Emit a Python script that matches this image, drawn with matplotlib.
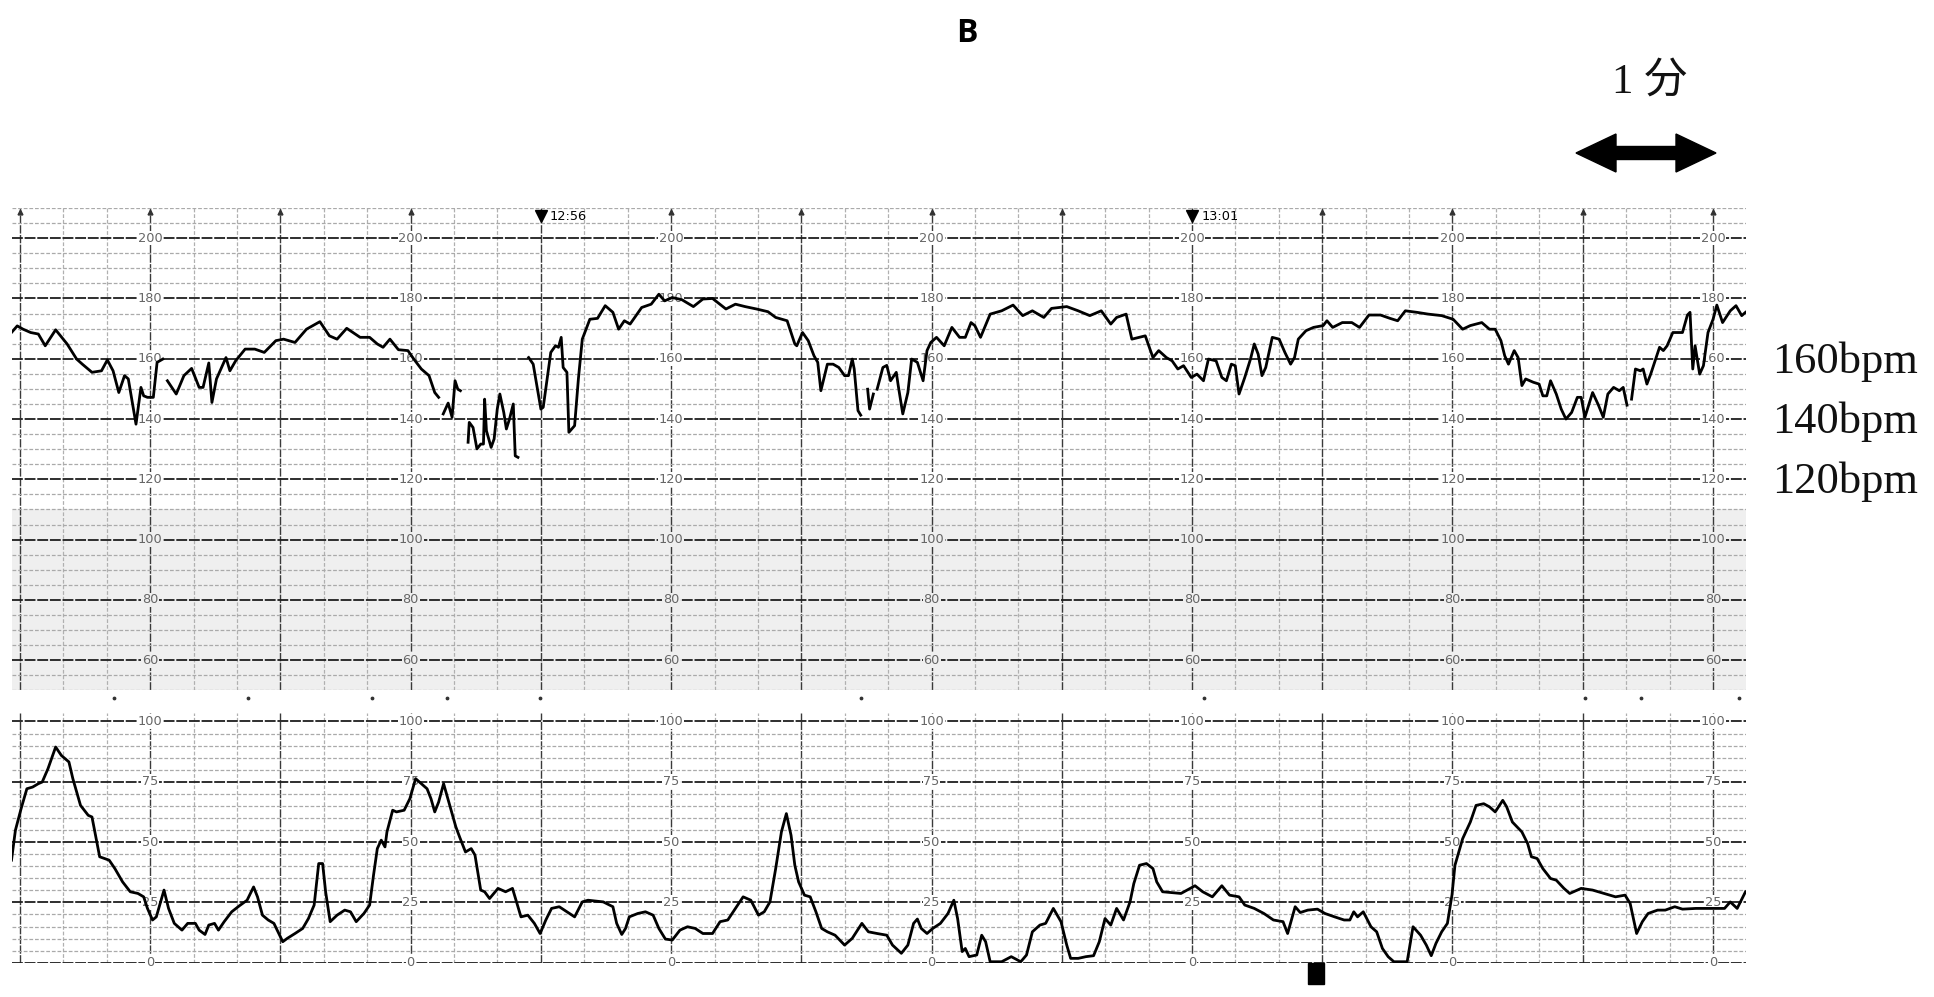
import numpy as np
import matplotlib
matplotlib.use('Agg')
import matplotlib.pyplot as plt
from matplotlib import font_manager
from matplotlib.patches import Polygon, Rectangle
from matplotlib.transforms import blended_transform_factory

# fetal heart rate trace (time in minutes from 12:56, None = signal lost)
fhr_t = [-4.065, -4.021, -3.976, -3.918, -3.859, -3.806, -3.726, -3.638, -3.565, -3.521, -3.447, -3.374,
         -3.329, -3.285, -3.241, -3.197, -3.168, -3.109, -3.071, -3.050, -3.021, -2.976, -2.947, -2.903,
         -2.885,
         -2.868, -2.800, -2.741, -2.682, -2.624, -2.594, -2.550, -2.526, -2.491, -2.418, -2.388, -2.344,
         -2.271, -2.197, -2.124, -2.035, -1.976, -1.888, -1.800, -1.697, -1.624, -1.565, -1.491, -1.388,
         -1.315, -1.256, -1.212, -1.159, -1.094, -1.021, -0.976, -0.918, -0.859, -0.815, -0.785,
         -0.768,
         -0.750, -0.712, -0.682, -0.659, -0.638, -0.618,
         -0.590,
         -0.559, -0.550, -0.521, -0.491, -0.462, -0.441, -0.432, -0.418, -0.382, -0.359, -0.335, -0.315,
         -0.285, -0.265, -0.241, -0.212, -0.197, -0.176,
         -0.130,
         -0.094, -0.059, 0.000, 0.018, 0.076, 0.112, 0.135, 0.156, 0.171, 0.200, 0.215, 0.259, 0.288,
         0.318, 0.376, 0.435, 0.494, 0.553, 0.597, 0.641, 0.685, 0.774, 0.847, 0.906, 0.950, 1.009,
         1.082, 1.171, 1.244, 1.318, 1.421, 1.494, 1.568, 1.656, 1.744, 1.803, 1.891, 1.950, 1.965,
         2.009, 2.053, 2.097, 2.126, 2.150, 2.200, 2.244, 2.288, 2.332, 2.362, 2.391, 2.406, 2.435, 2.456,
         2.480,
         2.509, 2.524, 2.553,
         2.568,
         2.582, 2.626, 2.656, 2.685, 2.729, 2.744, 2.779, 2.818, 2.847, 2.891, 2.935, 2.965, 2.994,
         3.038, 3.097, 3.156, 3.215, 3.259, 3.303, 3.332, 3.376, 3.450, 3.538, 3.626, 3.700, 3.774,
         3.862, 3.921, 4.038, 4.126, 4.215, 4.303, 4.376, 4.421, 4.494, 4.538, 4.641, 4.700, 4.744,
         4.803, 4.847, 4.891, 4.935, 4.994, 5.038, 5.088, 5.126, 5.185, 5.229, 5.264, 5.302, 5.332,
         5.361, 5.405, 5.449, 5.478, 5.508, 5.537, 5.566, 5.616, 5.669, 5.713, 5.757, 5.787, 5.816,
         5.875, 5.933, 6.007, 6.036, 6.080, 6.154, 6.227, 6.286, 6.359, 6.447, 6.520, 6.579, 6.638,
         6.726, 6.814, 6.917, 7.005, 7.078, 7.137, 7.225, 7.284, 7.328, 7.372, 7.401, 7.430, 7.474,
         7.504, 7.533, 7.562, 7.621, 7.665, 7.694, 7.724, 7.753, 7.797, 7.835, 7.871, 7.915, 7.959,
         7.988, 8.017, 8.076, 8.120, 8.158, 8.193, 8.237, 8.281, 8.311, 8.340,
         8.358,
         8.375, 8.405, 8.443, 8.464, 8.493, 8.522, 8.560, 8.590, 8.619, 8.648, 8.692, 8.766, 8.804,
         8.824, 8.845, 8.863, 8.898, 8.927, 8.962, 9.001, 9.030, 9.074, 9.133, 9.177, 9.221, 9.250]
fhr_bpm = [168.7, 170.9, 169.8, 168.7, 168.2, 164.3, 169.6, 164.9, 159.9, 158.2, 155.5, 156,
           159.6, 156, 148.8, 154.4, 153.3, 138.3, 150.5, 147.7, 147.2, 147.2, 158.8, 159.9,
           None,
           152.7, 148.3, 154.4, 156.8, 150.5, 150.5, 158.6, 145.5, 153.3, 160.4, 156, 159.3,
           163.2, 163.2, 162.1, 166, 166.5, 165.4, 169.8, 172.3, 167.6, 166.5, 170.1, 167.1,
           167.1, 164.9, 163.8, 166.5, 163, 162.7, 159.9, 156.6, 154.4, 148.8, 147.2,
           None,
           141.7, 145.3, 140.6, 152.7, 149.9, 149.4,
           None,
           132.3, 138.9, 137.2, 130.1, 131.7, 131.7, 146.6, 136.1, 130.6, 133.4, 143.3, 148.3,
           142.2, 136.7, 140, 145, 127.8, 127.3,
           None,
           160.4, 158.2, 143.3, 143.9, 162.1, 164.3, 163.8, 167.1, 157.1, 155.5, 135.6, 137.8, 153.3,
           166.5, 173.1, 173.4, 177.6, 175.4, 169.8, 172.6, 171.5, 177, 178.1, 181.4, 179.2, 180.3,
           179.6, 177.3, 179.8, 180, 176.5, 178.1, 177.3, 176.5, 175.6, 173.7, 172.6, 164.9, 164.3,
           168.7, 166, 161, 158.8, 149.4, 158.2, 158.2, 157.1, 154.4, 154.4, 159.9, 156.6, 142.8, 141.3,
           None,
           149.9, 143.3, 148.3,
           None,
           149.9, 157.1, 157.8, 152.7, 155.5, 151.1, 141.7, 148.8, 159.9, 158.8, 152.7, 162.7, 165.4,
           167.1, 164.3, 170.4, 167.1, 167.1, 172, 171, 167.1, 174.8, 175.9, 177.8, 174.3, 175.9,
           173.7, 176.7, 177.3, 175.9, 174.3, 175.9, 171.5, 173.7, 174.8, 166.5, 167.6, 160.4, 162.7,
           160.4, 159.3, 156.6, 157.7, 153.8, 154.9, 152.7, 159.9, 159.3, 153.8, 152.7, 158.2, 157.7,
           148.3, 153.8, 159.9, 164.9, 161.5, 154.4, 157.1, 167.1, 166.5, 162.1, 158.2, 160.4, 166.5,
           169.3, 170.4, 171, 172.6, 170.4, 172, 172, 170.4, 174.5, 174.5, 173.4, 172.6, 175.9,
           175.4, 174.8, 174.3, 173.1, 169.8, 171, 172, 169.8, 169.8, 166, 161, 158.2, 162.7,
           160.4, 151.1, 153.3, 152.2, 151.6, 147.7, 147.7, 152.7, 148.3, 143.3, 140, 142.2, 147.2,
           147.2, 140.6, 148.8, 144.7, 140.6, 148.3, 150.5, 149.4, 150.5, 144.6,
           None,
           146.6, 156.6, 156, 156.6, 151.6, 154.9, 159.9, 163.8, 162.7, 164.3, 168.7, 168.7, 174.5,
           175.4, 156.6, 164.3, 154.9, 157.7, 168.7, 173.1, 177.8, 172, 175.9, 177.6, 174.3, 175.4]

# uterine contraction trace
uc_t = [-4.065, -4.035, -3.991, -3.947, -3.903, -3.859, -3.829, -3.785, -3.726, -3.682, -3.624, -3.594,
        -3.535, -3.476, -3.447, -3.388, -3.315, -3.271, -3.212, -3.153, -3.094, -3.050, -3.021, -2.982,
        -2.953, -2.894, -2.859, -2.815, -2.756, -2.712, -2.653, -2.624, -2.579, -2.550, -2.506, -2.476,
        -2.432, -2.374, -2.315, -2.256, -2.206, -2.176, -2.138, -2.094, -2.050, -1.982, -1.947, -1.888,
        -1.829, -1.785, -1.741, -1.706, -1.676, -1.653, -1.618, -1.565, -1.506, -1.462, -1.418, -1.359,
        -1.315, -1.285, -1.256, -1.226, -1.197, -1.182, -1.138, -1.109, -1.050, -1.006, -0.962, -0.918,
        -0.874, -0.844, -0.815, -0.785, -0.747, -0.697, -0.653, -0.624, -0.579, -0.535, -0.506, -0.462,
        -0.432, -0.394, -0.329, -0.271, -0.218, -0.153, -0.100, -0.050, -0.006, 0.038, 0.082, 0.141,
        0.200, 0.259, 0.318, 0.362, 0.479, 0.553, 0.582, 0.621, 0.650, 0.679, 0.744, 0.803, 0.862,
        0.906, 0.956, 1.009, 1.068, 1.126, 1.185, 1.244, 1.318, 1.376, 1.435, 1.494, 1.553, 1.612,
        1.671, 1.715, 1.759, 1.803, 1.847, 1.885, 1.921, 1.950, 1.979, 2.024, 2.068, 2.112, 2.156,
        2.200, 2.259, 2.332, 2.391, 2.465, 2.515, 2.582, 2.656, 2.700, 2.768, 2.818, 2.862, 2.891,
        2.921, 2.965, 3.009, 3.068, 3.126, 3.171, 3.200, 3.235, 3.259, 3.288, 3.347, 3.385, 3.415,
        3.450, 3.538, 3.612, 3.685, 3.729, 3.774, 3.832, 3.876, 3.935, 3.994, 4.038, 4.068, 4.126,
        4.185, 4.244, 4.288, 4.332, 4.376, 4.421, 4.474, 4.524, 4.553, 4.597, 4.650, 4.700, 4.729,
        4.774, 4.915, 5.023, 5.082, 5.156, 5.229, 5.288, 5.361, 5.405, 5.478, 5.552, 5.625, 5.699,
        5.734, 5.792, 5.831, 5.889, 5.963, 6.021, 6.095, 6.168, 6.212, 6.242, 6.271, 6.315, 6.374,
        6.418, 6.462, 6.506, 6.550, 6.652, 6.697, 6.755, 6.799, 6.837, 6.873, 6.917, 6.961, 6.996,
        7.019, 7.078, 7.137, 7.181, 7.240, 7.284, 7.328, 7.386, 7.416, 7.460, 7.533, 7.577, 7.606,
        7.650, 7.694, 7.753, 7.797, 7.856, 7.900, 7.988, 8.076, 8.164, 8.252, 8.325, 8.364, 8.414,
        8.458, 8.502, 8.575, 8.634, 8.707, 8.766, 8.869, 8.986, 9.089, 9.133, 9.186, 9.250]
uc_val = [42.5, 54.9, 63.9, 72.1, 72.8, 74.2, 74.9, 80.4, 89.4, 85.9, 83.2, 76.3,
          65.2, 61.1, 60.4, 43.9, 42.5, 39, 33.5, 29.4, 28.7, 27.3, 22.5, 17.7,
          19, 30.1, 22.5, 16.3, 13.5, 16.3, 16.3, 13.5, 11.7, 15.6, 16.3, 13.5,
          17, 21.1, 23.6, 25.9, 31.4, 27.3, 19.7, 17.7, 16.3, 8.7, 10.1, 12.1,
          14.2, 18.3, 23.9, 41.1, 41.1, 29.4, 17, 19.7, 21.8, 21.1, 17, 20.4,
          23.9, 36.3, 47.3, 50.8, 48, 54.2, 63.2, 62.5, 63.2, 68, 76.3, 74.2,
          72.1, 68, 62.5, 66.6, 74.2, 64.6, 56.3, 52.1, 45.9, 47.3, 44.6, 30.1,
          29.4, 26.6, 30.8, 29.4, 30.8, 19, 19.7, 16.3, 12.1, 17.7, 22.5, 23.2,
          21.1, 19, 25.2, 25.9, 25.2, 23.2, 16.3, 11.7, 14.2, 19, 20.4, 21.1, 19.7,
          14.2, 9.8, 9.4, 13.5, 14.9, 14.2, 12.1, 12.1, 17, 17.7, 22.5, 27.3, 25.9,
          19.7, 21.1, 25.2, 39, 54.2, 61.8, 52.8, 40.4, 33.5, 28, 27.3, 21.1, 14.2,
          12.8, 11.4, 7.3, 10.1, 16.3, 12.8, 12.1, 11.4, 7.3, 3.9, 7.3, 16.3, 18.1,
          14.2, 12.1, 14.2, 16.3, 20.4, 25.9, 18.3, 4.6, 5.9, 2.5, 3.2, 11.4, 8.7,
          0.4, 0.4, 2.5, 0.4, 3.2, 12.8, 15.6, 16.3, 22.5, 17, 7.3, 1.8, 1.8,
          2.5, 2.9, 8.7, 18.3, 15.6, 22.5, 17.7, 25.2, 32.8, 40.4, 41.1, 39, 33.5,
          29.4, 28.7, 31.9, 29.4, 27.3, 31.9, 28, 27.3, 23.9, 22.5, 20.4, 17.7, 17,
          12.1, 23.2, 20.8, 21.8, 22.2, 20.4, 19, 17.7, 17.7, 21.1, 19, 21.1, 14.9,
          12.8, 5.9, 2.5, 0.4, 0.4, 14.9, 11.4, 7.3, 2.9, 8, 12.8, 16.3, 28,
          40.4, 51.4, 58.3, 65.2, 65.9, 64.6, 62.5, 67.3, 64.6, 58.3, 54.2, 49.4, 43.9,
          43.2, 39, 34.9, 34.2, 30.8, 28.7, 30.8, 30.1, 28.7, 27.3, 28, 24.6, 12.1,
          17, 20.4, 21.8, 21.8, 23.2, 22.2, 22.5, 22.5, 22.5, 25.2, 22.5, 29.4]

fhr_labels = [200, 180, 160, 140, 120, 100, 80, 60]
uc_labels = [100, 75, 50, 25, 0]
label_cols = [-3, -1, 1, 3, 5, 7, 9]
time_marks = [(0, '12:56'), (5, '13:01')]
side_labels = [160, 140, 120]
mark_dots = [-3.28, -2.25, -1.30, -0.72, -0.01, 2.46, 5.09, 8.02, 8.45, 9.2]
event_mark = (5.888, 6.011)

W, H = 1934, 997
fig = plt.figure(figsize=(W / 100, H / 100), dpi=100)

fonts = font_manager.fontManager.ttflist
names = {f.name for f in fonts}
small_font = 'Liberation Sans Narrow' if 'Liberation Sans Narrow' in names else 'DejaVu Sans'
small_size = 10.5 if small_font != 'DejaVu Sans' else 9.3
bold_font = 'DejaVu Sans'
for fam in ['Noto Sans', 'Open Sans', 'Lato', 'Roboto']:
    if any(f.name == fam and f.weight in (700, 'bold') for f in fonts):
        bold_font = fam
        break


def px_axes(x0, y0, x1, y1):
    return fig.add_axes([x0 / W, 1 - y1 / H, (x1 - x0) / W, (y1 - y0) / H])


ax1 = px_axes(11.5, 208, 1745.5, 690.4)
ax2 = px_axes(11.5, 713, 1745.5, 962.7)
xmin, xmax = -4.065, 9.25

for ax in (ax1, ax2):
    ax.set_xlim(xmin, xmax)
    ax.set_xticks([])
    ax.set_yticks([])
    for s in ax.spines.values():
        s.set_visible(False)
    # vertical grid: minute lines dark, 20 s lines light
    for k in range(-12, 28):
        t = k / 3
        if t < xmin or t > xmax:
            continue
        if k % 3 == 0:
            ax.axvline(t, color='#3a3a3a', lw=1.0, ls=(0, (6, 1)), zorder=1)
        else:
            ax.axvline(t, color='#b0b0b0', lw=0.9, ls=(0, (3, 1.5)), zorder=1)

ax1.set_ylim(50, 210)
ax2.set_ylim(0, 103.5)

ax1.axhspan(50, 110, color='#efefef', zorder=0, lw=0)
for v in range(50, 211, 5):
    if v % 20 == 0 and 60 <= v <= 200:
        ax1.axhline(v, color='#1e1e1e', lw=1.3, ls=(0, (6, 1)), zorder=1.5)
    else:
        ax1.axhline(v, color='#aaaaaa', lw=0.9, ls=(0, (3, 1.5)), zorder=1)
for v in range(0, 101, 5):
    if v % 25 == 0:
        ax2.axhline(v, color='#1e1e1e', lw=1.3, ls=(0, (6, 1)), zorder=1.5)
    else:
        ax2.axhline(v, color='#aaaaaa', lw=0.9, ls=(0, (3, 1.5)), zorder=1)

# scale numbers in the label columns
for c in label_cols:
    for v in fhr_labels:
        bg = '#efefef' if v < 110 else 'white'
        ax1.text(c, v, str(v), ha='center', va='center', fontsize=small_size, family=small_font,
                 color='#666666', zorder=2, bbox=dict(facecolor=bg, edgecolor='none', pad=0.6))
    for v in uc_labels:
        ax2.text(c, v, str(v), ha='center', va='center', fontsize=small_size, family=small_font,
                 color='#666666', zorder=2, bbox=dict(facecolor='white', edgecolor='none', pad=0.6))

# minute ticks at the top of the paper
mark_t = [t for t in range(-4, 10) if t not in [m[0] for m in time_marks]]
ax1.plot(mark_t, [208.6] * len(mark_t), ls='none', marker='^', ms=3.5, color='#333333', zorder=2)
for t, lab in time_marks:
    ax1.plot([t], [207.2], ls='none', marker='v', ms=8, color='black', zorder=3)
    ax1.text(t + 0.07, 207.2, lab, ha='left', va='center', fontsize=small_size, family=small_font,
             color='black', zorder=3)

# traces
fhr = np.array([np.nan if v is None else v for v in fhr_bpm], dtype=float)
ax1.plot(fhr_t, fhr, color='black', lw=2.0, zorder=4)
ax2.plot(uc_t, uc_val, color='black', lw=2.0, zorder=4)

# printer dots under the heart-rate paper and the event mark
ax1.scatter(mark_dots, [47.6] * len(mark_dots), s=3, color='#333333', clip_on=False, zorder=3)
ax2.add_patch(Rectangle((event_mark[0], -9), event_mark[1] - event_mark[0], 9, color='black',
                        clip_on=False, zorder=5))

# right-hand bpm labels
tr = blended_transform_factory(ax1.transAxes, ax1.transData)
for v in side_labels:
    ax1.text(1.0153, v - 4.6, f'{v}bpm', transform=tr, ha='left', va='baseline', fontsize=32,
             family='Liberation Serif', color='#111111', clip_on=False)

# title and 1-minute scale bar
fig.text(967 / W, 1 - 33 / H, 'B', ha='center', va='center', fontsize=23, fontweight='bold',
         family=bold_font)
fig.text(1650 / W, 1 - 82 / H, '1 分', ha='center', va='center', fontsize=31,
         family=['Liberation Serif', 'Noto Sans CJK JP'], color='#111111')
xl, xr, yc, hl, hh, sh = 1576, 1716, 153, 40, 19, 6.5
pts = [(xl, yc), (xl + hl, yc - hh), (xl + hl, yc - sh), (xr - hl, yc - sh), (xr - hl, yc - hh),
       (xr, yc), (xr - hl, yc + hh), (xr - hl, yc + sh), (xl + hl, yc + sh), (xl + hl, yc + hh)]
fig.add_artist(Polygon([(x / W, 1 - y / H) for x, y in pts], closed=True, color='black',
                       transform=fig.transFigure))

fig.savefig('out.png', dpi=100)
